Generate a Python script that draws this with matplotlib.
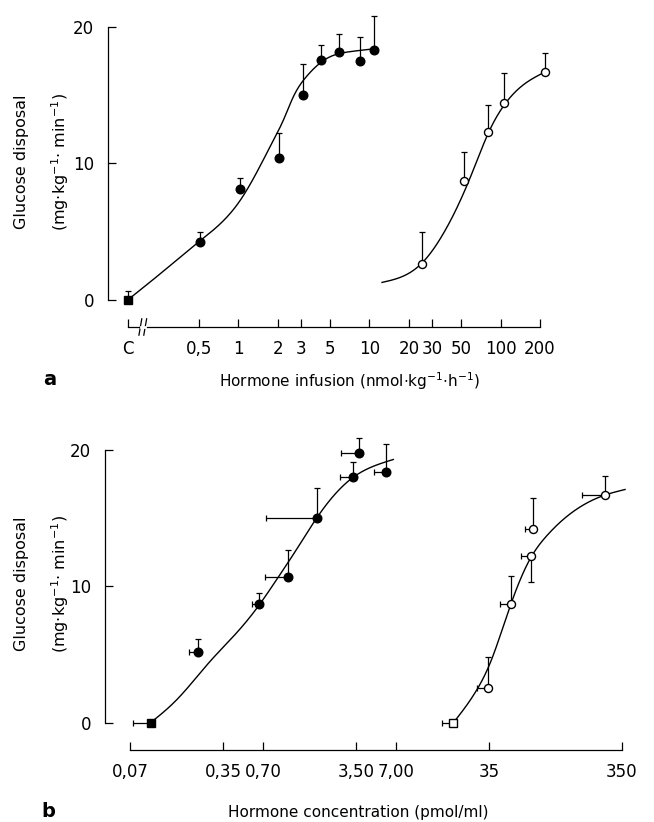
import matplotlib
matplotlib.use("Agg")
import matplotlib.pyplot as plt
import numpy as np

plt.rcParams['font.family'] = ['DejaVu Sans']
plt.rcParams['mathtext.fontset'] = 'dejavusans'

# ---- panel a: hormone infusion (nmol/kg/h) ----
C_POS = 0.145  # where the control "C" sits on the log axis

a_ticks = [C_POS, 0.5, 1, 2, 3, 5, 10, 20, 30, 50, 100, 200]
a_ticklabels = ['C', '0,5', '1', '2', '3', '5', '10', '20', '30', '50', '100', '200']

a_fill_x = [C_POS, 0.51, 1.04, 2.05, 3.1, 4.3, 5.9, 8.5, 10.9]
a_fill_y = [0.0, 4.2, 8.1, 10.4, 15.0, 17.6, 18.2, 17.5, 18.3]
a_fill_top = [0.65, 5.0, 8.9, 12.2, 17.3, 18.7, 19.5, 19.3, 20.8]

a_open_x = [25, 53, 80, 107, 218]
a_open_y = [2.6, 8.7, 12.3, 14.4, 16.7]
a_open_top = [5.0, 10.8, 14.3, 16.6, 18.1]

# fitted curves (knots)
a_fill_curve_x = [C_POS, 0.27, 0.51, 1.04, 1.47, 1.86, 2.22, 2.64, 3.34, 4.75, 7.2, 10.8]
a_fill_curve_y = [0.0, 2.1, 4.3, 7.3, 9.8, 11.7, 13.2, 14.9, 16.4, 17.7, 18.2, 18.4]
a_open_curve_x = [12.5, 24.9, 36.9, 49.5, 62.5, 80.5, 107, 151, 218]
a_open_curve_y = [1.27, 2.64, 4.9, 7.3, 9.6, 12.2, 14.3, 15.8, 16.7]

# ---- panel b: hormone concentration (pmol/ml) ----
b_ticks = [0.07, 0.35, 0.70, 3.50, 7.00, 35, 350]
b_ticklabels = ['0,07', '0,35', '0,70', '3,50', '7,00', '35', '350']

b_fill_x = [0.10, 0.226, 0.656, 1.07, 1.77, 3.34, 3.71, 5.9]
b_fill_y = [0.0, 5.15, 8.67, 10.7, 15.0, 18.0, 19.8, 18.4]
b_fill_top = [0.0, 6.13, 9.5, 12.67, 17.2, 19.1, 20.9, 20.4]
b_fill_left = [0.0733, 0.195, 0.575, 0.72, 0.74, 2.65, 2.7, 4.8]

b_open_x = [18.9, 34.6, 51, 72, 74.5, 262]
b_open_y = [0.0, 2.54, 8.72, 12.2, 14.2, 16.7]
b_open_low = [0.0, 2.54, 8.72, 10.35, 14.2, 16.7]
b_open_top = [0.0, 4.8, 10.77, 12.2, 16.5, 18.1]
b_open_left = [15.4, 28.3, 42, 61, 65, 174]

b_fill_curve_x = [0.10, 0.157, 0.28, 0.444, 0.656, 0.887, 1.25, 1.77, 2.51, 3.34, 4.72, 6.68]
b_fill_curve_y = [0.0, 1.68, 4.5, 6.6, 8.64, 10.5, 12.7, 15.0, 16.9, 18.0, 18.8, 19.3]
b_open_curve_x = [18.9, 28.3, 35.7, 50.3, 71.2, 95, 142, 262, 369]
b_open_curve_y = [0.0, 2.4, 4.37, 8.5, 12.0, 13.7, 15.3, 16.7, 17.1]


def smooth(x, y, n=300):
    # natural cubic spline through the knots, y as a function of log10(x)
    u = np.log10(np.asarray(x, float))
    y = np.asarray(y, float)
    k = len(u)
    h = np.diff(u)
    A = np.zeros((k, k))
    r = np.zeros(k)
    A[0, 0] = A[-1, -1] = 1
    for i in range(1, k - 1):
        A[i, i - 1] = h[i - 1]
        A[i, i] = 2 * (h[i - 1] + h[i])
        A[i, i + 1] = h[i]
        r[i] = 3 * ((y[i + 1] - y[i]) / h[i] - (y[i] - y[i - 1]) / h[i - 1])
    c = np.linalg.solve(A, r)
    b = (y[1:] - y[:-1]) / h - h * (2 * c[:-1] + c[1:]) / 3
    d = (c[1:] - c[:-1]) / (3 * h)
    uu = np.linspace(u[0], u[-1], n)
    idx = np.clip(np.searchsorted(u, uu) - 1, 0, k - 2)
    dx = uu - u[idx]
    return 10 ** uu, y[idx] + b[idx] * dx + c[idx] * dx ** 2 + d[idx] * dx ** 3


def style_axes(ax):
    ax.set_xscale('log')
    ax.spines['top'].set_visible(False)
    ax.spines['right'].set_visible(False)
    ax.spines['left'].set_bounds(0, 20)
    ax.set_ylim(-2, 21)
    ax.set_yticks([0, 10, 20])
    ax.minorticks_off()
    ax.tick_params(axis='both', direction='in', length=6, width=0.9, labelsize=12)
    ax.tick_params(axis='x', pad=9)
    ax.tick_params(axis='y', pad=10)
    for s in ax.spines.values():
        s.set_linewidth(0.9)
    ax.patch.set_visible(False)


def ylabels(fig, yc):
    fig.text(22 / 654, yc, 'Glucose disposal', rotation=90, ha='center', va='center', fontsize=11.5)
    fig.text(60 / 654, yc, r'(mg$\cdot$kg$^{\mathsf{-1}}$$\cdot$ min$^{\mathsf{-1}}$)', rotation=90,
             ha='center', va='center', fontsize=11.5)


fig = plt.figure(figsize=(6.54, 8.22), dpi=100)

ebkw = dict(fmt='none', ecolor='black', elinewidth=0.9, capsize=2.2, capthick=0.9, clip_on=False)

# ---------------- panel a ----------------
ax = fig.add_axes([108 / 654, 495 / 822, 440 / 654, 313.6 / 822])
style_axes(ax)
ax.set_xlim(0.102, 230)
ax.spines['bottom'].set_bounds(C_POS, 200)
ax.set_xticks(a_ticks)
ax.set_xticklabels(a_ticklabels)

fy = np.array(a_fill_y)
ax.errorbar(a_fill_x, fy, yerr=[np.zeros_like(fy), np.array(a_fill_top) - fy], **ebkw)
oy = np.array(a_open_y)
ax.errorbar(a_open_x, oy, yerr=[np.zeros_like(oy), np.array(a_open_top) - oy], **ebkw)

cx, cy = smooth(a_fill_curve_x, a_fill_curve_y)
ax.plot(cx, cy, color='black', lw=1.0)
cx, cy = smooth(a_open_curve_x, a_open_curve_y)
ax.plot(cx, cy, color='black', lw=1.0)

ax.plot(a_fill_x[:1], a_fill_y[:1], 's', color='black', ms=6, clip_on=False, zorder=4)
ax.plot(a_fill_x[1:], a_fill_y[1:], 'o', color='black', ms=6.2, clip_on=False, zorder=4)
ax.plot(a_open_x, a_open_y, 'o', mfc='white', mec='black', mew=1.0, ms=5.8, clip_on=False, zorder=4)

# axis break "//"
for xb in (0.180, 0.196):
    ax.plot([xb * 0.975, xb * 1.025], [-2.6, -1.4], color='black', lw=0.9, clip_on=False)
ax.plot([0.183, 0.196], [-2, -2], color='white', lw=2.0, clip_on=False, zorder=3)

ylabels(fig, 1 - 162 / 822)
fig.text(350 / 654, 1 - 381 / 822, r'Hormone infusion (nmol$\cdot$kg$^{\mathsf{-1}}$$\cdot$h$^{\mathsf{-1}}$)',
         ha='center', va='center', fontsize=11)
fig.text(50 / 654, 1 - 379 / 822, 'a', ha='center', va='center', fontsize=14, fontweight='bold')

# ---------------- panel b ----------------
bx = fig.add_axes([105 / 654, 72 / 822, 531 / 654, 313.7 / 822])
style_axes(bx)
bx.set_xlim(0.0454, 446)
bx.spines['bottom'].set_bounds(0.07, 350)
bx.set_xticks(b_ticks)
bx.set_xticklabels(b_ticklabels)

cx, cy = smooth(b_fill_curve_x, b_fill_curve_y)
bx.plot(cx, cy, color='black', lw=1.0)
cx, cy = smooth(b_open_curve_x, b_open_curve_y)
bx.plot(cx, cy, color='black', lw=1.0)

fx = np.array(b_fill_x)
fy = np.array(b_fill_y)
bx.errorbar(fx, fy, yerr=[np.zeros_like(fy), np.array(b_fill_top) - fy],
            xerr=[fx - np.array(b_fill_left), np.zeros_like(fx)], **ebkw)
ox = np.array(b_open_x)
oy = np.array(b_open_y)
bx.errorbar(ox, oy, yerr=[oy - np.array(b_open_low), np.array(b_open_top) - oy],
            xerr=[ox - np.array(b_open_left), np.zeros_like(ox)], **ebkw)

bx.plot(b_fill_x[:1], b_fill_y[:1], 's', color='black', ms=6, clip_on=False, zorder=4)
bx.plot(b_fill_x[1:], b_fill_y[1:], 'o', color='black', ms=6.2, clip_on=False, zorder=4)
bx.plot(b_open_x[:1], b_open_y[:1], 's', mfc='white', mec='black', mew=1.0, ms=5.8, clip_on=False, zorder=4)
bx.plot(b_open_x[1:], b_open_y[1:], 'o', mfc='white', mec='black', mew=1.0, ms=5.8, clip_on=False, zorder=4)

ylabels(fig, 1 - 584 / 822)
fig.text(358 / 654, 1 - 812 / 822, 'Hormone concentration (pmol/ml)', ha='center', va='center', fontsize=11)
fig.text(48 / 654, 1 - 811 / 822, 'b', ha='center', va='center', fontsize=14, fontweight='bold')

fig.savefig('out.png', dpi=100)
